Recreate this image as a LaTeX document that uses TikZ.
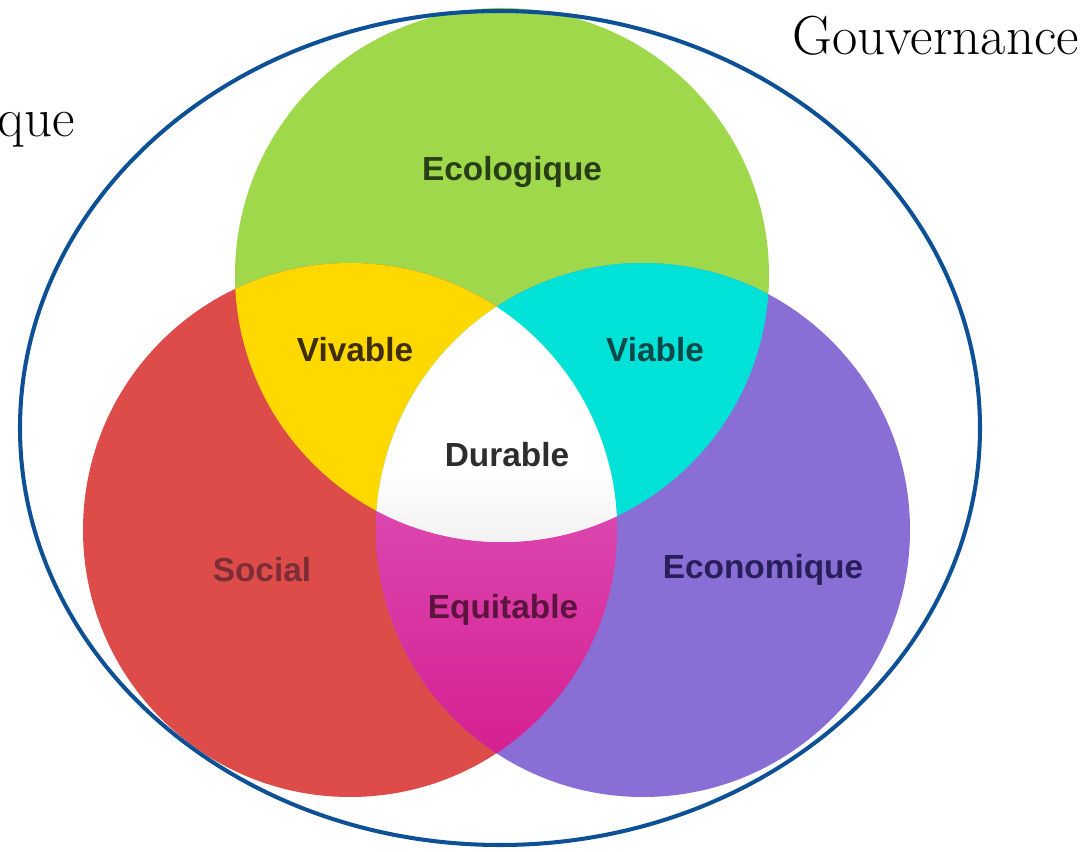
\documentclass[tikz,border=0pt]{standalone}
\usepackage{fontspec}
\newfontfamily\zonefont{Liberation Sans}
\usetikzlibrary{positioning}

\definecolor{vertC}{RGB}{160,216,76}
\definecolor{rougeC}{RGB}{221,76,72}
\definecolor{violetC}{RGB}{137,110,214}
\definecolor{jauneC}{RGB}{255,216,0}
\definecolor{cyanC}{RGB}{0,226,216}
\definecolor{magentaH}{RGB}{220,70,175}
\definecolor{magentaB}{RGB}{212,24,140}
\definecolor{bleuC}{RGB}{14,80,150}

\begin{document}
\begin{tikzpicture}[
        zone/.style={font=\zonefont\bfseries\fontsize{19}{21}\selectfont},
        titre/.style={font=\fontsize{31.3}{33}\selectfont, inner sep=0pt},
        bord/.style={draw=bleuC, line width=2.3pt}
    ]
        \useasboundingbox (0,0) rectangle (21.78,17.02);
        \def\ecocercle{(10.04,11.52) circle (5.34)}
        \def\soccercle{(7.00,6.42) circle (5.34)}
        \def\econcercle{(12.86,6.42) circle (5.34)}
        % les trois cercles
        \fill[vertC] \ecocercle;
        \fill[rougeC] \soccercle;
        \fill[violetC] \econcercle;
        % intersections
        \begin{scope}
            \clip \ecocercle;
            \fill[jauneC] \soccercle;
            \fill[cyanC] \econcercle;
        \end{scope}
        \begin{scope}
            \clip \soccercle;
            \clip \econcercle;
            \shade[top color=magentaH, bottom color=magentaB] (6,1) rectangle (14,6.8);
        \end{scope}
        \begin{scope}
            \clip \ecocercle;
            \clip \soccercle;
            \clip \econcercle;
            \fill[white] (6,6) rectangle (14,11);
            \shade[top color=white, bottom color=gray!12] (6,5.95) rectangle (14,7.6);
        \end{scope}
        % enveloppe
        \draw[bord] (10.0,8.46) ellipse (9.6 and 8.34);
        \node[zone, text={rgb,255:red,40;green,62;blue,20}] (Eco) at (10.24,13.58) {Ecologique};
        \node[zone, text={rgb,255:red,62;green,46;blue,0}] (Viv) at (7.10,10.02) {Vivable};
        \node[zone, text={rgb,255:red,8;green,72;blue,72}] (Via) at (13.10,10.02) {Viable};
        \node[zone, text={rgb,255:red,45;green,45;blue,45}] (Dur) at (10.14,7.92) {Durable};
        \node[zone, text={rgb,255:red,125;green,45;blue,55}] (Soc) at (5.24,5.62) {Social};
        \node[zone, text={rgb,255:red,40;green,30;blue,90}] (Econ) at (15.26,5.62) {Economique};
        \node[zone, text={rgb,255:red,92;green,20;blue,62}] (Equ) at (10.06,4.82) {Equitable};
        \node[titre, anchor=base west] (Gouv) at (15.84,15.92) {Gouvernance};
        \node[titre, anchor=base east] (Pol) at (1.50,14.28) {que};
\end{tikzpicture}
\end{document}
